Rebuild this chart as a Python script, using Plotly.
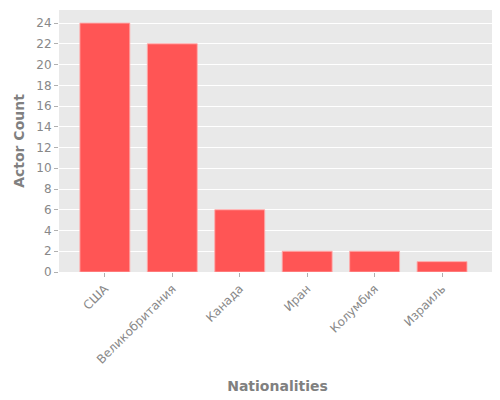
import plotly.graph_objs as go

countries = ['США', 'Великобритания', 'Канада', 'Иран', 'Колумбия', 'Израиль']
actor_counts = [24, 22, 6, 2, 2, 1]

fig = go.Figure()
fig.add_trace(go.Bar(x=countries, y=actor_counts,
                     marker=dict(color='#ff5555',
                                 line=dict(color='rgba(255,170,170,0.9)', width=1)),
                     width=0.74))

fig.update_layout(
    width=500, height=400,
    margin=dict(l=51, r=12, t=2, b=136),
    paper_bgcolor='white',
    plot_bgcolor='#e9e9e9',
    font=dict(family='DejaVu Sans', size=12, color='#888888'),
    showlegend=False,
)
fig.update_xaxes(
    title=dict(text='<b>Nationalities</b>', font=dict(size=14, color='#808080'), standoff=15),
    tickangle=-45, ticks='outside', ticklen=4, tickcolor='#b0b0b0',
    range=[-0.68, 5.8],
    showgrid=False, showline=False, automargin=False,
)
fig.update_yaxes(
    title=dict(text='<b>Actor Count</b>', font=dict(size=14, color='#808080'), standoff=8),
    dtick=2, ticks='outside', ticklen=4, tickcolor='#b0b0b0',
    gridcolor='white', gridwidth=1, zeroline=False, showline=False, automargin=False,
)

fig.write_html("out.html")
